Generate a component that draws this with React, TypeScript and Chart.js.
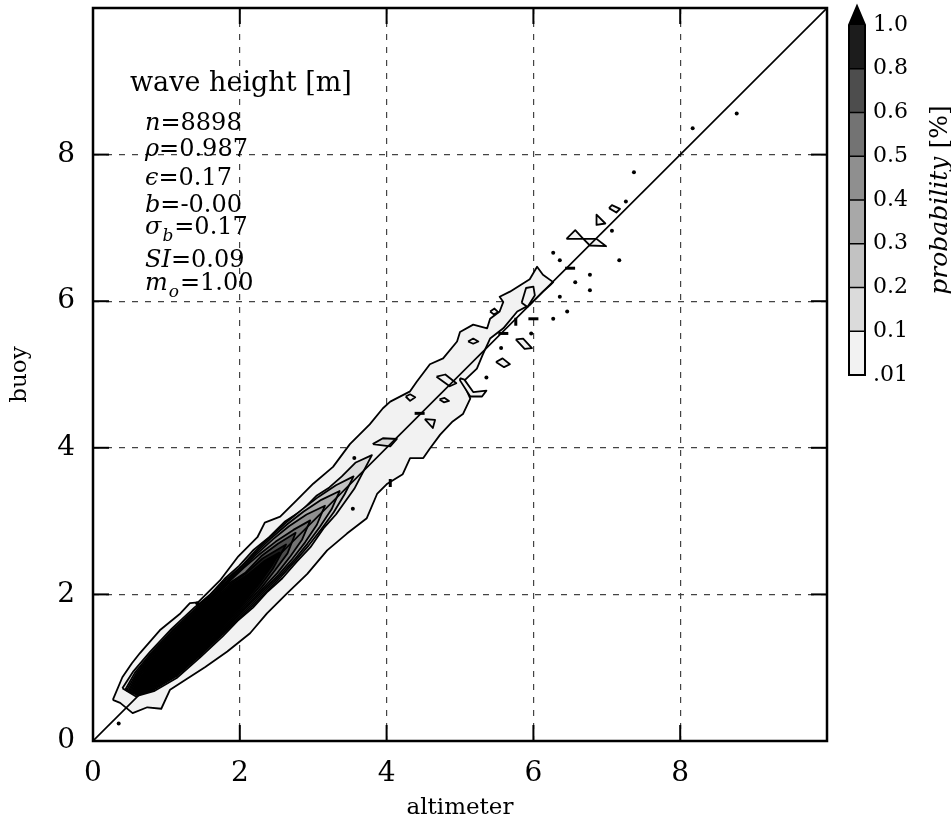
import React, { useEffect, useRef } from 'react';
import { Chart, registerables } from 'chart.js';

Chart.register(...registerables);

type Pt = [number, number];

// ---------------- data ----------------
const AXIS_MIN = 0;
const AXIS_MAX = 10;
const TICK_VALUES = [0, 2, 4, 6, 8];
const X_TITLE = 'altimeter';
const Y_TITLE = 'buoy';
const PANEL_TITLE = 'wave height [m]';
const STAT_SYMBOLS = ['n', 'ρ', 'ϵ', 'b', 'σ', 'SI', 'm'];
const STAT_SUBSCRIPTS = ['', '', '', '', 'b', '', 'o'];
const STAT_VALUES = ['=8898', '=0.987', '=0.17', '=-0.00', '=0.17', '=0.09', '=1.00'];
const LEVEL_LABELS = ['1.0', '0.8', '0.6', '0.5', '0.4', '0.3', '0.2', '0.1', '.01'];
const BAND_COLORS = ['#1c1c1c', '#4d4d4d', '#737373', '#8f8f8f', '#a8a8a8', '#c2c2c2', '#dbdbdb', '#f2f2f2'];
const EXTEND_COLOR = '#000000';
const COLORBAR_TITLE_ITALIC = 'probability';
const COLORBAR_TITLE_UNIT = ' [%]';

const ONE_TO_ONE: Pt[] = [[0, 0], [10, 10]];

// contour of level .01
const CONTOUR_001: Pt[] = [
  [0.27, 0.56], [0.40, 0.87], [0.53, 1.06], [0.64, 1.20], [0.91, 1.51], [1.19, 1.74], [1.32, 1.88], [1.43, 1.89],
  [1.73, 2.19], [1.98, 2.52], [2.24, 2.78], [2.34, 2.98], [2.55, 3.06], [2.78, 3.29], [3.00, 3.51], [3.27, 3.74],
  [3.50, 4.05], [3.77, 4.32], [3.95, 4.54], [4.05, 4.63], [4.32, 4.77], [4.41, 4.90], [4.59, 5.14], [4.77, 5.22],
  [4.96, 5.45], [5.00, 5.58], [5.18, 5.68], [5.37, 5.63], [5.41, 5.76], [5.54, 5.86], [5.59, 5.99], [5.54, 6.06],
  [5.68, 6.13], [5.95, 6.30], [6.05, 6.47], [6.13, 6.36], [6.27, 6.26],
  [6.23, 6.22], [6.13, 6.13], [5.95, 5.95], [5.78, 5.86], [5.59, 5.63], [5.41, 5.49], [5.31, 5.27], [5.23, 5.08],
  [5.04, 4.90], [5.14, 4.67], [5.04, 4.46], [4.90, 4.36], [4.73, 4.18], [4.59, 3.99], [4.50, 3.86], [4.32, 3.86],
  [4.22, 3.64], [4.01, 3.51], [3.87, 3.37], [3.73, 3.04], [3.46, 2.83], [3.19, 2.60], [2.92, 2.28], [2.64, 2.01],
  [2.37, 1.74], [2.14, 1.47], [1.83, 1.22], [1.53, 1.01], [1.25, 0.83], [1.05, 0.70], [0.93, 0.44], [0.74, 0.46],
  [0.54, 0.38], [0.37, 0.52], [0.27, 0.56],
];
const ISLANDS_001: Pt[][] = [
  [[6.45, 6.85], [6.57, 6.97], [6.68, 6.85], [6.77, 6.76], [6.99, 6.75], [6.86, 6.85], [6.45, 6.85]],
  [[7.03, 7.27], [7.07, 7.31], [7.18, 7.26], [7.13, 7.21], [7.03, 7.27]],
  [[6.86, 7.18], [6.86, 7.04], [6.98, 7.06], [6.86, 7.18]],
  [[5.41, 5.86], [5.47, 5.90], [5.52, 5.85], [5.46, 5.82], [5.41, 5.86]],
  [[5.76, 5.48], [5.86, 5.49], [5.98, 5.36], [5.88, 5.35], [5.76, 5.48]],
  [[5.49, 5.17], [5.58, 5.22], [5.68, 5.14], [5.60, 5.10], [5.49, 5.17]],
  [[5.11, 5.45], [5.18, 5.49], [5.25, 5.45], [5.18, 5.42], [5.11, 5.45]],
  [[4.52, 4.39], [4.66, 4.38], [4.63, 4.27], [4.52, 4.39]],
  [[4.26, 4.70], [4.32, 4.73], [4.39, 4.69], [4.32, 4.64], [4.26, 4.70]],
  [[4.72, 4.66], [4.79, 4.68], [4.85, 4.64], [4.78, 4.62], [4.72, 4.66]],
  [[4.68, 4.97], [4.80, 5.00], [4.95, 4.88], [4.86, 4.84], [4.68, 4.97]],
  [[5.00, 4.95], [5.06, 4.93], [5.18, 4.76], [5.36, 4.78], [5.30, 4.70], [5.14, 4.70], [5.00, 4.92], [5.00, 4.95]],
  [[5.84, 5.98], [5.90, 6.18], [6.00, 6.20], [6.02, 6.08], [5.92, 5.92], [5.84, 5.98]],
];
const CONTOUR_01: Pt[] = [
  [0.40, 0.72], [0.55, 0.95], [0.78, 1.22], [1.07, 1.53], [1.38, 1.82], [1.60, 2.00], [1.79, 2.21], [1.99, 2.39],
  [2.19, 2.61], [2.40, 2.78], [2.61, 2.99], [2.84, 3.14], [3.05, 3.35], [3.22, 3.46], [3.39, 3.61], [3.58, 3.80],
  [3.80, 3.90],
  [3.56, 3.44], [3.31, 3.09], [3.14, 2.90], [2.96, 2.64], [2.78, 2.45], [2.58, 2.22], [2.38, 2.04], [2.18, 1.82],
  [1.97, 1.64], [1.77, 1.43], [1.46, 1.14], [1.14, 0.86], [0.83, 0.68], [0.58, 0.61], [0.40, 0.72],
];
const ISLANDS_01: Pt[][] = [
  [[3.81, 4.05], [3.95, 4.13], [4.14, 4.12], [4.05, 4.02], [3.81, 4.05]],
];
const CONTOUR_02: Pt[] = [
  [0.44, 0.70], [0.57, 0.93], [0.80, 1.21], [1.09, 1.52], [1.40, 1.81], [1.81, 2.20], [2.02, 2.38], [2.21, 2.59],
  [2.42, 2.79], [2.63, 2.98], [2.85, 3.16], [3.07, 3.33], [3.31, 3.49], [3.55, 3.61],
  [3.43, 3.37], [3.28, 3.12], [3.11, 2.89], [2.94, 2.67], [2.75, 2.45], [2.56, 2.24], [2.17, 1.84], [1.76, 1.45],
  [1.45, 1.16], [1.13, 0.88], [0.81, 0.69], [0.60, 0.63], [0.44, 0.70],
];
const CONTOUR_03: Pt[] = [
  [0.46, 0.69], [0.59, 0.92], [0.81, 1.20], [1.10, 1.51], [1.41, 1.80], [1.82, 2.18], [2.23, 2.58], [2.43, 2.77],
  [2.65, 2.96], [2.87, 3.13], [3.11, 3.29], [3.36, 3.41],
  [3.25, 3.16], [3.09, 2.92], [2.92, 2.69], [2.74, 2.47], [2.55, 2.26], [2.15, 1.85], [1.75, 1.46], [1.44, 1.17],
  [1.12, 0.89], [0.80, 0.70], [0.61, 0.64], [0.46, 0.69],
];
const CONTOUR_04: Pt[] = [
  [0.48, 0.68], [0.60, 0.91], [0.82, 1.19], [1.11, 1.50], [1.42, 1.79], [1.83, 2.17], [2.24, 2.56], [2.45, 2.75],
  [2.67, 2.93], [2.91, 3.09], [3.16, 3.21],
  [3.05, 2.95], [2.89, 2.71], [2.72, 2.49], [2.53, 2.27], [2.14, 1.87], [1.74, 1.47], [1.43, 1.18], [1.11, 0.90],
  [0.79, 0.71], [0.62, 0.65], [0.48, 0.68],
];
const CONTOUR_05: Pt[] = [
  [0.50, 0.68], [0.61, 0.90], [0.83, 1.18], [1.12, 1.49], [1.43, 1.78], [1.84, 2.16], [2.05, 2.36], [2.26, 2.54],
  [2.49, 2.72], [2.73, 2.88], [2.96, 3.01],
  [2.85, 2.75], [2.69, 2.52], [2.51, 2.29], [2.13, 1.88], [1.73, 1.48], [1.42, 1.19], [1.10, 0.91], [0.78, 0.72],
  [0.63, 0.66], [0.50, 0.68],
];
const CONTOUR_06: Pt[] = [
  [0.52, 0.68], [0.62, 0.89], [0.84, 1.17], [1.13, 1.48], [1.44, 1.77], [1.85, 2.15], [2.08, 2.30], [2.29, 2.52],
  [2.52, 2.69], [2.76, 2.84],
  [2.65, 2.56], [2.48, 2.33], [2.30, 2.10], [2.11, 1.89], [1.72, 1.49], [1.41, 1.20], [1.09, 0.92], [0.77, 0.73],
  [0.64, 0.67], [0.52, 0.68],
];
const CONTOUR_08: Pt[] = [
  [0.54, 0.68], [0.63, 0.88], [0.85, 1.16], [1.14, 1.47], [1.45, 1.76], [1.87, 2.14], [2.10, 2.30], [2.31, 2.49],
  [2.63, 2.68],
  [2.45, 2.35], [2.28, 2.12], [2.10, 1.91], [1.71, 1.50], [1.40, 1.21], [1.08, 0.93], [0.76, 0.74], [0.65, 0.68],
  [0.54, 0.68],
];
const CONTOUR_10: Pt[] = [
  [0.56, 0.69], [0.64, 0.86], [0.86, 1.15], [1.15, 1.46], [1.46, 1.75], [1.88, 2.12], [2.12, 2.28], [2.34, 2.46],
  [2.54, 2.57],
  [2.43, 2.38], [2.26, 2.14], [2.08, 1.92], [1.70, 1.51], [1.39, 1.22], [1.07, 0.94], [0.75, 0.75], [0.66, 0.69],
  [0.56, 0.69],
];
const SINGLE_POINTS: Pt[] = [
  [7.37, 7.76], [7.26, 7.36], [7.07, 6.96], [7.17, 6.56], [6.27, 6.66], [6.36, 6.56], [6.77, 6.36], [6.57, 6.26],
  [6.77, 6.15], [6.36, 6.06], [6.46, 5.86], [6.27, 5.76], [8.17, 8.36], [8.77, 8.56], [5.97, 5.56], [5.56, 5.36],
  [5.36, 4.96], [3.56, 3.86], [3.54, 3.17], [0.35, 0.24], [1.42, 1.88],
];
const DASHES_H: Pt[] = [[6.50, 6.45], [6.00, 5.76], [5.59, 5.56], [4.45, 4.47]];
const DASHES_V: Pt[] = [[5.76, 5.72], [4.05, 3.52]];

// ---------------- chart ----------------
const FONT = '"DejaVu Serif"';
const toXY = (pts: Pt[]) => pts.map(([x, y]) => ({ x, y }));

function polyDataset(pts: Pt[], color: string, order: number) {
  return {
    data: toXY(pts),
    showLine: true,
    fill: 'shape',
    backgroundColor: color,
    borderColor: '#000',
    borderWidth: 1.8,
    borderJoinStyle: 'round',
    pointRadius: 0,
    pointHoverRadius: 0,
    tension: 0,
    order,
  };
}

const overlayPlugin = {
  id: 'overlay',
  afterDatasetsDraw(chart: any) {
    const { ctx, chartArea: a, scales } = chart;
    const xs = scales.x;
    const ys = scales.y;
    ctx.save();
    ctx.strokeStyle = '#000';
    ctx.lineWidth = 2;
    const TL = 16;
    const seg = (x1: number, y1: number, x2: number, y2: number) => {
      ctx.beginPath();
      ctx.moveTo(x1, y1);
      ctx.lineTo(x2, y2);
      ctx.stroke();
    };
    for (const v of TICK_VALUES) {
      if (v === AXIS_MIN) continue;
      const px = xs.getPixelForValue(v);
      seg(px, a.bottom, px, a.bottom - TL);
      seg(px, a.top, px, a.top + TL);
      const py = ys.getPixelForValue(v);
      seg(a.left, py, a.left + TL, py);
      seg(a.right, py, a.right - TL, py);
    }
    ctx.lineWidth = 2.5;
    ctx.strokeRect(a.left, a.top, a.right - a.left, a.bottom - a.top);
    ctx.restore();
  },
  afterDraw(chart: any) {
    const { ctx } = chart;
    ctx.save();
    ctx.fillStyle = '#000';
    ctx.textBaseline = 'alphabetic';
    ctx.textAlign = 'left';
    ctx.font = `27px ${FONT}`;
    ctx.fillText(PANEL_TITLE, 130, 91);
    const baselines = [130, 156, 185, 212, 234, 267, 290];
    STAT_SYMBOLS.forEach((sym, i) => {
      let cx = 145;
      const b = baselines[i];
      ctx.font = `italic 24px ${FONT}`;
      ctx.fillText(sym, cx, b);
      cx += ctx.measureText(sym).width;
      if (STAT_SUBSCRIPTS[i]) {
        ctx.font = `italic 17px ${FONT}`;
        ctx.fillText(STAT_SUBSCRIPTS[i], cx + 1, b + 7);
        cx += ctx.measureText(STAT_SUBSCRIPTS[i]).width + 2;
      }
      ctx.font = `24px ${FONT}`;
      ctx.fillText(STAT_VALUES[i], cx, b);
    });
    // colorbar
    const cbL = 849, cbR = 865, cbTip = 6, cbTop = 25, step = 43.75;
    BAND_COLORS.forEach((c, i) => {
      ctx.fillStyle = c;
      ctx.fillRect(cbL, cbTop + i * step, cbR - cbL, step);
    });
    ctx.fillStyle = EXTEND_COLOR;
    ctx.beginPath();
    ctx.moveTo(cbL, cbTop);
    ctx.lineTo((cbL + cbR) / 2, cbTip);
    ctx.lineTo(cbR, cbTop);
    ctx.closePath();
    ctx.fill();
    ctx.strokeStyle = '#000';
    ctx.lineWidth = 1.5;
    for (let i = 1; i < BAND_COLORS.length; i++) {
      const yy = cbTop + i * step;
      ctx.beginPath();
      ctx.moveTo(cbL, yy);
      ctx.lineTo(cbR, yy);
      ctx.stroke();
    }
    ctx.lineWidth = 2;
    ctx.beginPath();
    ctx.moveTo(cbL, cbTop + BAND_COLORS.length * step);
    ctx.lineTo(cbL, cbTop);
    ctx.lineTo((cbL + cbR) / 2, cbTip);
    ctx.lineTo(cbR, cbTop);
    ctx.lineTo(cbR, cbTop + BAND_COLORS.length * step);
    ctx.closePath();
    ctx.stroke();
    ctx.fillStyle = '#000';
    ctx.font = `22px ${FONT}`;
    ctx.textBaseline = 'middle';
    LEVEL_LABELS.forEach((lab, i) => {
      ctx.fillText(lab, 873, cbTop + i * step);
    });
    ctx.save();
    ctx.translate(940, cbTop + (BAND_COLORS.length * step) / 2);
    ctx.rotate(-Math.PI / 2);
    ctx.font = `italic 25px ${FONT}`;
    const w1 = ctx.measureText(COLORBAR_TITLE_ITALIC).width;
    ctx.font = `25px ${FONT}`;
    const w2 = ctx.measureText(COLORBAR_TITLE_UNIT).width;
    const start = -(w1 + w2) / 2;
    ctx.font = `italic 25px ${FONT}`;
    ctx.fillText(COLORBAR_TITLE_ITALIC, start, 0);
    ctx.font = `25px ${FONT}`;
    ctx.fillText(COLORBAR_TITLE_UNIT, start + w1, 0);
    ctx.restore();
    ctx.restore();
  },
};

export default function App() {
  const ref = useRef<HTMLCanvasElement>(null);
  useEffect(() => {
    const canvas = ref.current;
    if (!canvas) return;
    Chart.defaults.font.family = FONT;
    Chart.defaults.color = '#000';

    const datasets: any[] = [];
    datasets.push({
      data: toXY(ONE_TO_ONE), showLine: true, borderColor: '#000', borderWidth: 1.6,
      pointRadius: 0, fill: false, order: 1,
    });
    datasets.push({
      data: toXY(SINGLE_POINTS), pointRadius: 2, pointBackgroundColor: '#000', pointBorderWidth: 0, order: 2,
    });
    datasets.push({
      data: toXY(DASHES_H), pointStyle: 'line', pointRadius: 5, pointBorderColor: '#000', pointBorderWidth: 3,
      pointRotation: 0, order: 2,
    });
    datasets.push({
      data: toXY(DASHES_V), pointStyle: 'line', pointRadius: 4, pointBorderColor: '#000', pointBorderWidth: 3,
      pointRotation: 90, order: 2,
    });
    datasets.push(polyDataset(CONTOUR_10, EXTEND_COLOR, 11));
    datasets.push(polyDataset(CONTOUR_08, BAND_COLORS[0], 12));
    datasets.push(polyDataset(CONTOUR_06, BAND_COLORS[1], 13));
    datasets.push(polyDataset(CONTOUR_05, BAND_COLORS[2], 14));
    datasets.push(polyDataset(CONTOUR_04, BAND_COLORS[3], 15));
    datasets.push(polyDataset(CONTOUR_03, BAND_COLORS[4], 16));
    datasets.push(polyDataset(CONTOUR_02, BAND_COLORS[5], 17));
    datasets.push(polyDataset(CONTOUR_01, BAND_COLORS[6], 18));
    ISLANDS_01.forEach((p) => datasets.push(polyDataset(p, BAND_COLORS[6], 18)));
    ISLANDS_001.forEach((p) => datasets.push(polyDataset(p, BAND_COLORS[7], 19)));
    datasets.push(polyDataset(CONTOUR_001, BAND_COLORS[7], 20));

    const tickFilter = (scale: any) => {
      scale.ticks = scale.ticks.filter((t: any) => TICK_VALUES.includes(t.value));
    };
    const gridColor = (c: any) => (c.tick && c.tick.value === AXIS_MIN ? 'rgba(0,0,0,0)' : '#444');

    const chart = new Chart(canvas, {
      type: 'scatter',
      data: { datasets },
      plugins: [overlayPlugin],
      options: {
        animation: false,
        responsive: false,
        events: [],
        layout: { padding: { top: 5, right: 124, bottom: 0, left: 0 } },
        plugins: { legend: { display: false }, tooltip: { enabled: false } },
        scales: {
          x: {
            type: 'linear', min: AXIS_MIN, max: AXIS_MAX,
            ticks: { stepSize: 2, padding: 16, font: { size: 28, family: FONT }, color: '#000', maxRotation: 0 },
            afterBuildTicks: tickFilter,
            afterFit: (s: any) => { s.height = 87; s.paddingLeft = 0; s.paddingRight = 0; },
            grid: { color: gridColor, lineWidth: 1.2, drawTicks: false },
            border: { display: false, dash: [6, 7] },
            title: { display: true, text: X_TITLE, font: { size: 23, family: FONT }, color: '#000', padding: { top: 0, bottom: 6 } },
          },
          y: {
            type: 'linear', min: AXIS_MIN, max: AXIS_MAX,
            ticks: { stepSize: 2, padding: 18, font: { size: 28, family: FONT }, color: '#000' },
            afterBuildTicks: tickFilter,
            afterFit: (s: any) => { s.width = 93; s.paddingTop = 0; s.paddingBottom = 0; },
            grid: { color: gridColor, lineWidth: 1.2, drawTicks: false },
            border: { display: false, dash: [6, 7] },
            title: { display: true, text: Y_TITLE, font: { size: 23, family: FONT }, color: '#000', padding: { top: 6, bottom: 0 } },
          },
        },
      } as any,
    } as any);
    return () => chart.destroy();
  }, []);
  return (
    <div style={{ position: 'fixed', left: 0, top: 0, width: 951, height: 828, background: '#fff' }}>
      <canvas ref={ref} width={951} height={828} style={{ display: 'block', width: 951, height: 828 }} />
    </div>
  );
}
